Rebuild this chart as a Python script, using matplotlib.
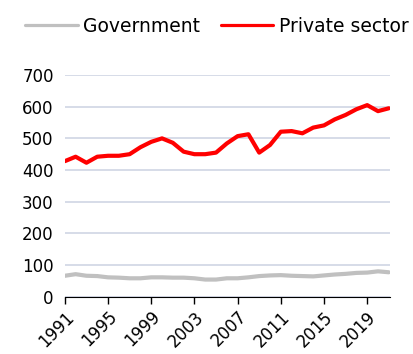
import numpy as np
from matplotlib import pyplot as plt

years = np.arange(1991, 2022)
government = [66, 71, 66, 65, 61, 60, 58, 58, 61, 61, 60, 60, 58, 54, 54, 58,
              58, 61, 65, 67, 68, 66, 65, 64, 67, 70, 72, 75, 76, 80, 77]
private = [428, 442, 423, 442, 445, 445, 450, 472, 489, 500, 486, 458, 450, 450,
           455, 484, 507, 513, 455, 479, 521, 523, 516, 534, 541, 560, 574, 592,
           605, 586, 595]
xticks = np.arange(1991, 2020, 4)

fig = plt.figure(figsize=(4.13, 3.54), dpi=100)
ax = fig.add_axes([0.157, 0.162, 0.787, 0.626])

ax.plot(years, government, color='#c0c0c0', lw=3, label='Government', solid_capstyle='round')
ax.plot(years, private, color='#ff0000', lw=3, label='Private sector', solid_capstyle='round')

ax.set_xlim(1991, 2021.1)
ax.set_ylim(0, 700)
ax.set_yticks(np.arange(0, 701, 100))
ax.set_xticks(xticks)
ax.set_xticklabels([str(y) for y in xticks], rotation=45, ha='right', rotation_mode='anchor')
ax.grid(axis='y', color='#d0d6e4', lw=1.2)
ax.set_axisbelow(True)
for s in ['left', 'right', 'top']:
    ax.spines[s].set_visible(False)
ax.spines['bottom'].set_color('black')
ax.tick_params(axis='y', length=0, labelsize=12, pad=8)
ax.tick_params(axis='x', length=5, width=1, labelsize=12, pad=3)

leg = fig.legend(loc='upper center', bbox_to_anchor=(0.525, 1.0), ncol=2, frameon=False,
                 fontsize=13.5, handlelength=2.8, handletextpad=0.3, columnspacing=1.1)
for h in leg.get_lines():
    h.set_linewidth(2.3)

fig.savefig('out.png', dpi=100)
